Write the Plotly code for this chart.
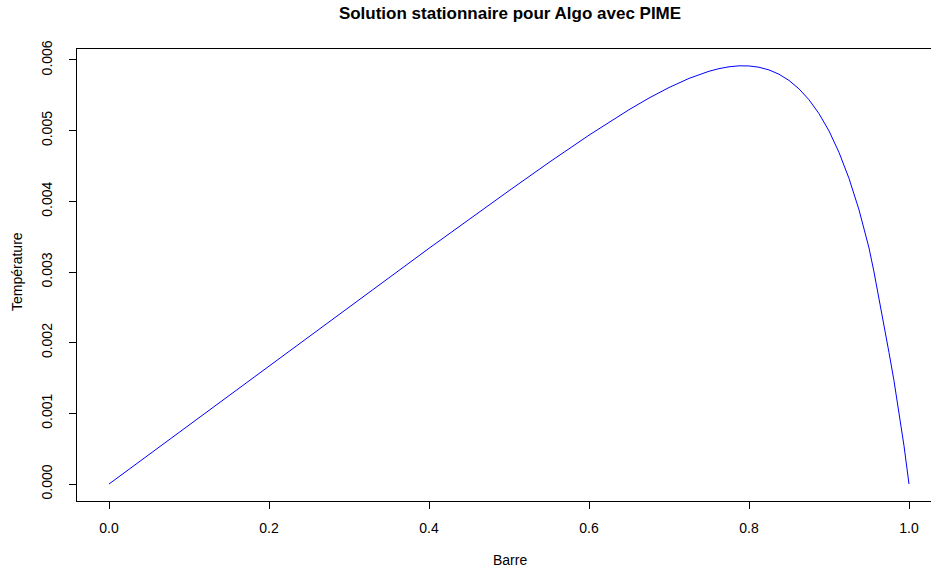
import plotly.graph_objects as go

# Values
barre = [0.0, 0.1, 0.2, 0.3, 0.4, 0.5, 0.55, 0.6, 0.625, 0.65, 0.675, 0.7,
         0.725, 0.75, 0.7625, 0.775, 0.7875, 0.8, 0.8125, 0.825, 0.8375, 0.85,
         0.8625, 0.875, 0.8875, 0.9, 0.9125, 0.925, 0.9375, 0.94375, 0.95,
         0.95625, 0.9625, 0.96875, 0.975, 0.98125, 0.9875, 0.99375, 1.0]
temperature = [0.0, 0.000834, 0.001668, 0.002502, 0.003335, 0.00415, 0.00455,
               0.004936, 0.00512, 0.005296, 0.005461, 0.00561, 0.005739,
               0.00584, 0.005877, 0.005903, 0.005917, 0.005915, 0.005897,
               0.005859, 0.005798, 0.00571, 0.005591, 0.005437, 0.00524,
               0.004996, 0.004692, 0.004324, 0.00388, 0.003627, 0.00334,
               0.00300, 0.00263, 0.00226, 0.00186, 0.00146, 0.00103, 0.00054,
               0.0]

x_ticks = [0.0, 0.2, 0.4, 0.6, 0.8, 1.0]
x_labels = ["0.0", "0.2", "0.4", "0.6", "0.8", "1.0"]
y_ticks = [0.000, 0.001, 0.002, 0.003, 0.004, 0.005, 0.006]
y_labels = ["0.000", "0.001", "0.002", "0.003", "0.004", "0.005", "0.006"]

FONT = "Liberation Sans, Arial, Helvetica, sans-serif"
W, H = 931, 569
L, T, B = 77, 49, 68
PW, PH = W - L, H - T - B

fig = go.Figure()
fig.add_trace(go.Scatter(x=barre, y=temperature, mode="lines",
                         line=dict(color="#0000FF", width=1), showlegend=False,
                         hoverinfo="skip"))

fig.update_layout(
    width=W, height=H,
    margin=dict(l=L, r=0, t=T, b=B, pad=0),
    paper_bgcolor="white", plot_bgcolor="white",
    font=dict(family=FONT, size=14, color="black"),
    title=dict(text="<b>Solution stationnaire pour Algo avec PIME</b>",
               x=510 / W, xanchor="center", y=1 - 13 / H, yanchor="middle",
               xref="container", yref="container",
               font=dict(family=FONT, size=17, color="black")),
    xaxis=dict(range=[-0.04, -0.04 + PW / 800], tickvals=x_ticks, ticktext=x_labels,
               showgrid=False, zeroline=False, showline=True, linecolor="black",
               linewidth=1, mirror=True, ticks="outside", ticklen=7,
               tickcolor="black", tickwidth=1, ticklabelstandoff=7,
               tickfont=dict(size=14)),
    yaxis=dict(range=[-0.00024, 0.006155], tickvals=y_ticks, ticktext=y_labels,
               showgrid=False, zeroline=False, showline=True, linecolor="black",
               linewidth=1, mirror=False, ticks="outside", ticklen=7,
               tickcolor="black", tickwidth=1, tickangle=-90,
               ticklabelstandoff=11, tickfont=dict(size=14)),
)
fig.add_annotation(text="Barre", xref="paper", yref="paper",
                   x=(510 - L) / PW, y=-(560 - (T + PH)) / PH,
                   showarrow=False, xanchor="center", yanchor="middle",
                   font=dict(size=14))
fig.add_annotation(text="Température", xref="paper", yref="paper",
                   x=-(L - 17) / PW, y=(T + PH - 272) / PH, textangle=-90,
                   showarrow=False, xanchor="center", yanchor="middle",
                   font=dict(size=14))

fig.write_html("out.html", config={"displayModeBar": False},
               post_script="document.body.style.margin='0px';document.body.style.overflow='hidden';")
